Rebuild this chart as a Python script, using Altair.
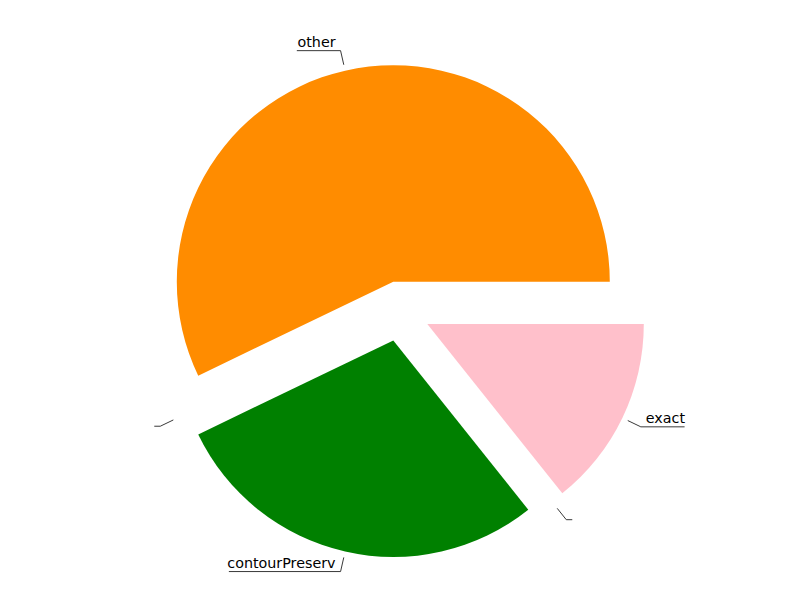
import altair as alt
import pandas as pd

# ---- data ----
labels = ["other", "", "contourPreserv", "", "exact"]
values = [4, 0, 2, 0, 1]

# ---- styles (not data) ----
colors = ["#ff8c00", "#ffffff", "#008000", "#ffffff", "#ffc0cb"]
explode_dx = [0, -19.5, 0, 25.2, 34.0]
explode_dy = [0, 41.7, 58.8, 52.7, 42.3]

CX, CY = 385.3, 273.7      # centre of the un-exploded pie (chart coords)
R = 216.5                  # pie radius
R_START = 222.5            # leader line start radius
R_ELBOW = 237.0            # leader line elbow radius
CHAR_W = 7.55              # approx. character width for underline length

df = pd.DataFrame({
    "order": list(range(len(labels))),
    "label": labels,
    "value": values,
    "dx": explode_dx,
    "dy": explode_dy,
})

base = (
    alt.Chart(df)
    .transform_joinaggregate(total="sum(value)")
    .transform_window(cum="sum(value)", sort=[alt.SortField("order")], frame=[None, 0])
    .transform_calculate(
        f1="datum.cum / datum.total",
        f0="(datum.cum - datum.value) / datum.total",
    )
    .transform_calculate(
        t0="PI/2 - 2*PI*datum.f0",
        t1="PI/2 - 2*PI*datum.f1",
        mid="PI*(datum.f0 + datum.f1)",
        cx=f"{CX} + datum.dx",
        cy=f"{CY} + datum.dy",
    )
    .transform_calculate(
        side="cos(datum.mid) >= 0 ? 1 : -1",
        sx=f"datum.cx + {R_START}*cos(datum.mid)",
        sy=f"datum.cy - {R_START}*sin(datum.mid)",
        ex=f"datum.cx + {R_ELBOW}*cos(datum.mid)",
        ey=f"datum.cy - {R_ELBOW}*sin(datum.mid)",
    )
    .transform_calculate(
        hx=f"datum.ex + datum.side*({CHAR_W}*length(datum.label) + 6)",
        tx="datum.ex + datum.side*5",
        ty="datum.ey - 4",
    )
)

arcs = base.transform_filter("datum.value > 0").mark_arc(outerRadius=R).encode(
    x=alt.X("cx:Q", scale=None, axis=None),
    y=alt.Y("cy:Q", scale=None, axis=None),
    theta=alt.Theta("t0:Q", scale=None, stack=None),
    theta2="t1:Q",
    color=alt.Color("order:N", scale=alt.Scale(domain=list(range(len(labels))), range=colors), legend=None),
)

leaders = base.mark_rule(color="#222222", strokeWidth=0.9).encode(
    x=alt.X("sx:Q", scale=None, axis=None),
    y=alt.Y("sy:Q", scale=None, axis=None),
    x2="ex:Q",
    y2="ey:Q",
)

unders = base.mark_rule(color="#222222", strokeWidth=0.9).encode(
    x=alt.X("ex:Q", scale=None, axis=None),
    y=alt.Y("ey:Q", scale=None, axis=None),
    x2="hx:Q",
    y2="ey:Q",
)

text_kw = dict(baseline="alphabetic", font="DejaVu Sans", fontSize=14.3, color="black")
text_left = base.transform_filter("datum.side < 0").mark_text(align="right", **text_kw).encode(
    x=alt.X("tx:Q", scale=None, axis=None),
    y=alt.Y("ty:Q", scale=None, axis=None),
    text="label:N",
)
text_right = base.transform_filter("datum.side > 0").mark_text(align="left", **text_kw).encode(
    x=alt.X("tx:Q", scale=None, axis=None),
    y=alt.Y("ty:Q", scale=None, axis=None),
    text="label:N",
)

chart = (
    alt.layer(arcs, leaders, unders, text_left, text_right)
    .properties(width=784, height=570, padding=0, background="white")
    .configure_view(stroke=None)
)

chart.save("out.html", embed_options={"renderer": "svg", "actions": False})
